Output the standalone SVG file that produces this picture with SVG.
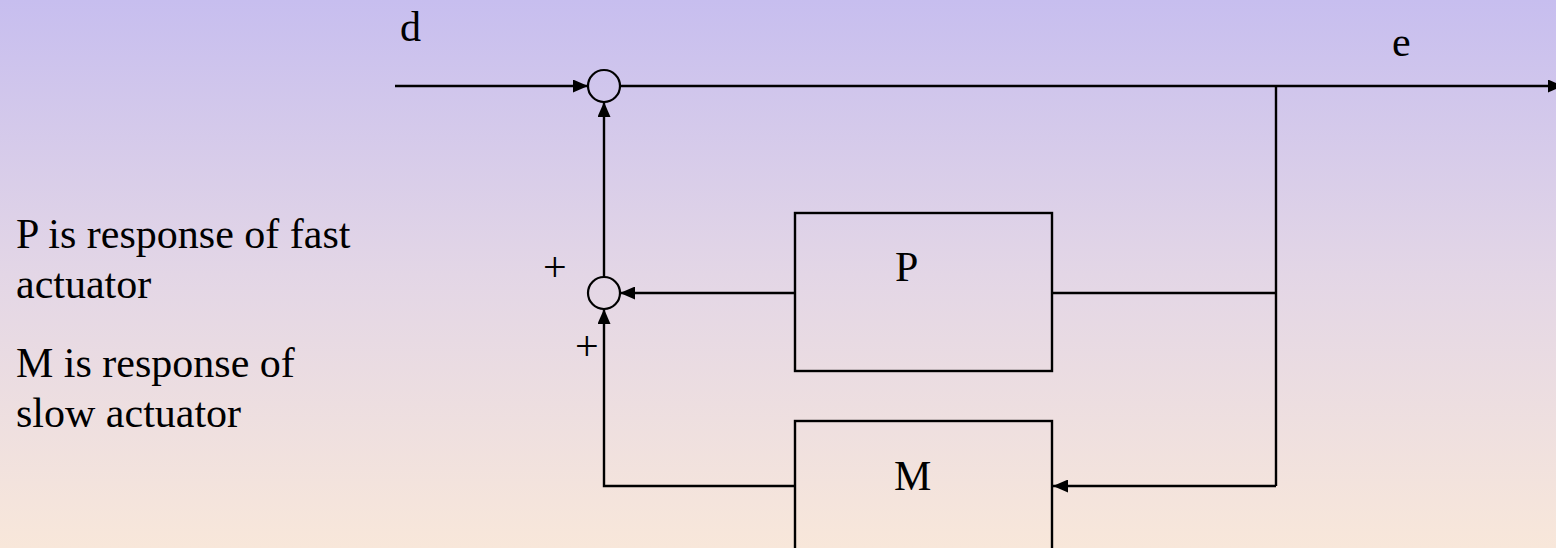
<svg xmlns="http://www.w3.org/2000/svg" width="1556" height="548" viewBox="0 0 1556 548">
  <defs>
    <linearGradient id="bg" x1="0" y1="0" x2="0" y2="1">
      <stop offset="0" stop-color="#C7BEEF"/>
      <stop offset="0.5" stop-color="#E3D6E6"/>
      <stop offset="1" stop-color="#F8E7DA"/>
    </linearGradient>
    <marker id="arr" markerUnits="userSpaceOnUse" markerWidth="16" markerHeight="13" refX="15" refY="6.5" orient="auto">
      <path d="M0,0 L15,6.5 L0,13 z" fill="#000"/>
    </marker>
    <style>
      .t { font-family: "Liberation Serif", "Times New Roman", serif; font-size: 42px; fill: #000; }
      .box { fill: none; stroke: #000; stroke-width: 2.4; }
      .sum { fill: none; stroke: #000; stroke-width: 2.2; }
      .c { fill: none; stroke: #000; stroke-width: 2.4; }
      .a { marker-end: url(#arr); }
    </style>
  </defs>
  <rect x="0" y="0" width="1556" height="548" fill="url(#bg)"/>

  <g id="labels">
    <text class="t" x="16" y="248">P is response of fast</text>
    <text class="t" x="16" y="298">actuator</text>
    <text class="t" x="16" y="377">M is response of</text>
    <text class="t" x="16" y="427">slow actuator</text>
    <text class="t" x="400" y="41">d</text>
    <text class="t" x="1392" y="56">e</text>
    <text class="t" x="543" y="281">+</text>
    <text class="t" x="575" y="360">+</text>
  </g>

  <g id="connectors">
    <path class="c a" d="M395,86 L588,86"/>
    <path class="c a" d="M620,86 L1563,86"/>
    <path class="c" d="M1276,86 L1276,486"/>
    <path class="c" d="M1276,293 L1052,293"/>
    <path class="c a" d="M795,293 L620,293"/>
    <path class="c a" d="M604,277 L604,102"/>
    <path class="c a" d="M1276,486 L1053,486"/>
    <path class="c a" d="M795,486 L604,486 L604,309"/>
  </g>

  <g id="sum1">
    <circle class="sum" cx="604" cy="86" r="16"/>
  </g>
  <g id="sum2">
    <circle class="sum" cx="604" cy="293" r="16"/>
  </g>
  <g id="P">
    <rect class="box" x="795" y="213" width="257" height="158"/>
    <text class="t" x="895" y="281">P</text>
  </g>
  <g id="M">
    <rect class="box" x="795" y="421" width="257" height="158"/>
    <text class="t" x="894" y="490">M</text>
  </g>
</svg>
